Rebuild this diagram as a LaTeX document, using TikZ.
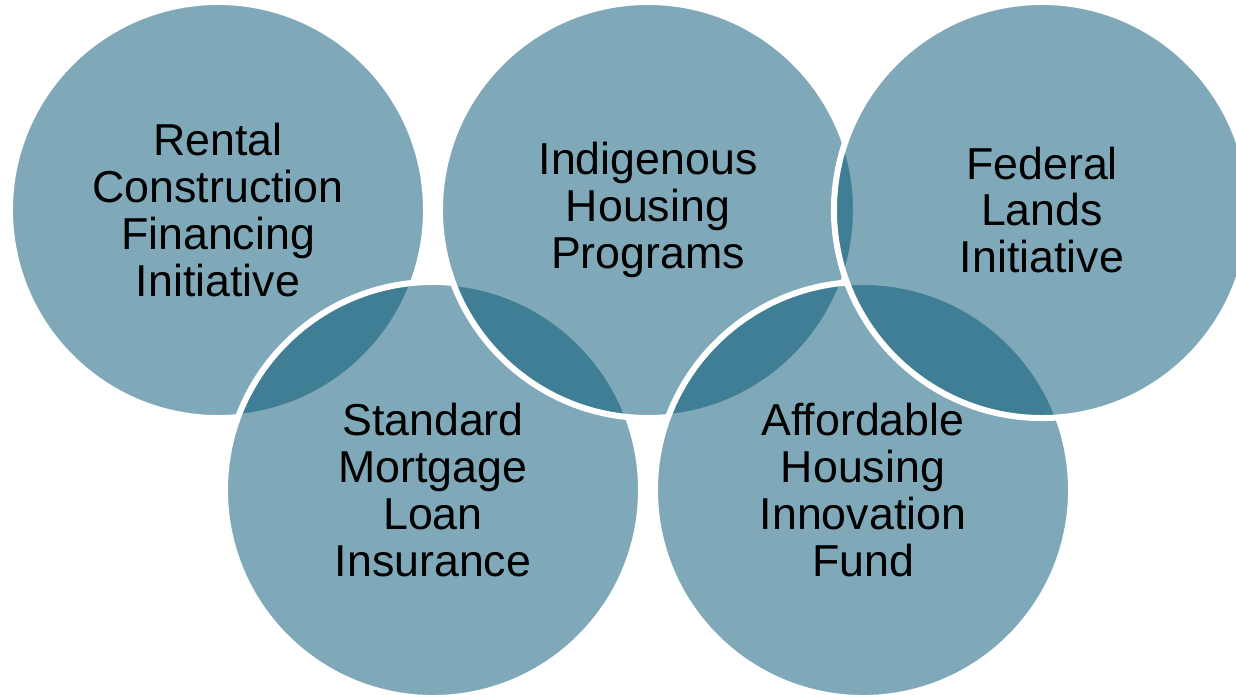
\documentclass[tikz,border=0pt]{standalone}
\usepackage{fontspec}
\setmainfont{Liberation Sans}
\usepackage{xcolor}
\usepackage{tikz}
\definecolor{ringfill}{HTML}{005573}
\definecolor{ringedge}{HTML}{FFFFFF}
\tikzset{
  ring/.style={circle, inner sep=0pt, minimum size=10.4cm, fill=ringfill, fill opacity=0.5,
    draw=ringedge, draw opacity=1, line width=4.3pt, text opacity=1, text=black,
    align=center, font=\fontsize{31.8}{33.4}\selectfont},
}
\begin{document}
\begin{tikzpicture}[x=0.025cm, y=-0.025cm]
  \useasboundingbox (0,0) rectangle (1236,695);
  \fill[white] (0,0) rectangle (1236,695);
  \clip (0,0) rectangle (1236,695);
  % drawn back to front, so each rim lies over the one before
  \foreach \name/\x/\y/\txt in {
      rental/218/210/{Rental\\Construction\\Financing\\Initiative},
      standard/433/490/{Standard\\Mortgage\\Loan\\Insurance},
      indigenous/648/210/{Indigenous\\Housing\\Programs},
      afford/863/490/{Affordable\\Housing\\Innovation\\Fund},
      federal/1042/210/{Federal\\Lands\\Initiative}}
    \node[ring] (\name) at (\x,\y) {\txt};
\end{tikzpicture}
\end{document}
